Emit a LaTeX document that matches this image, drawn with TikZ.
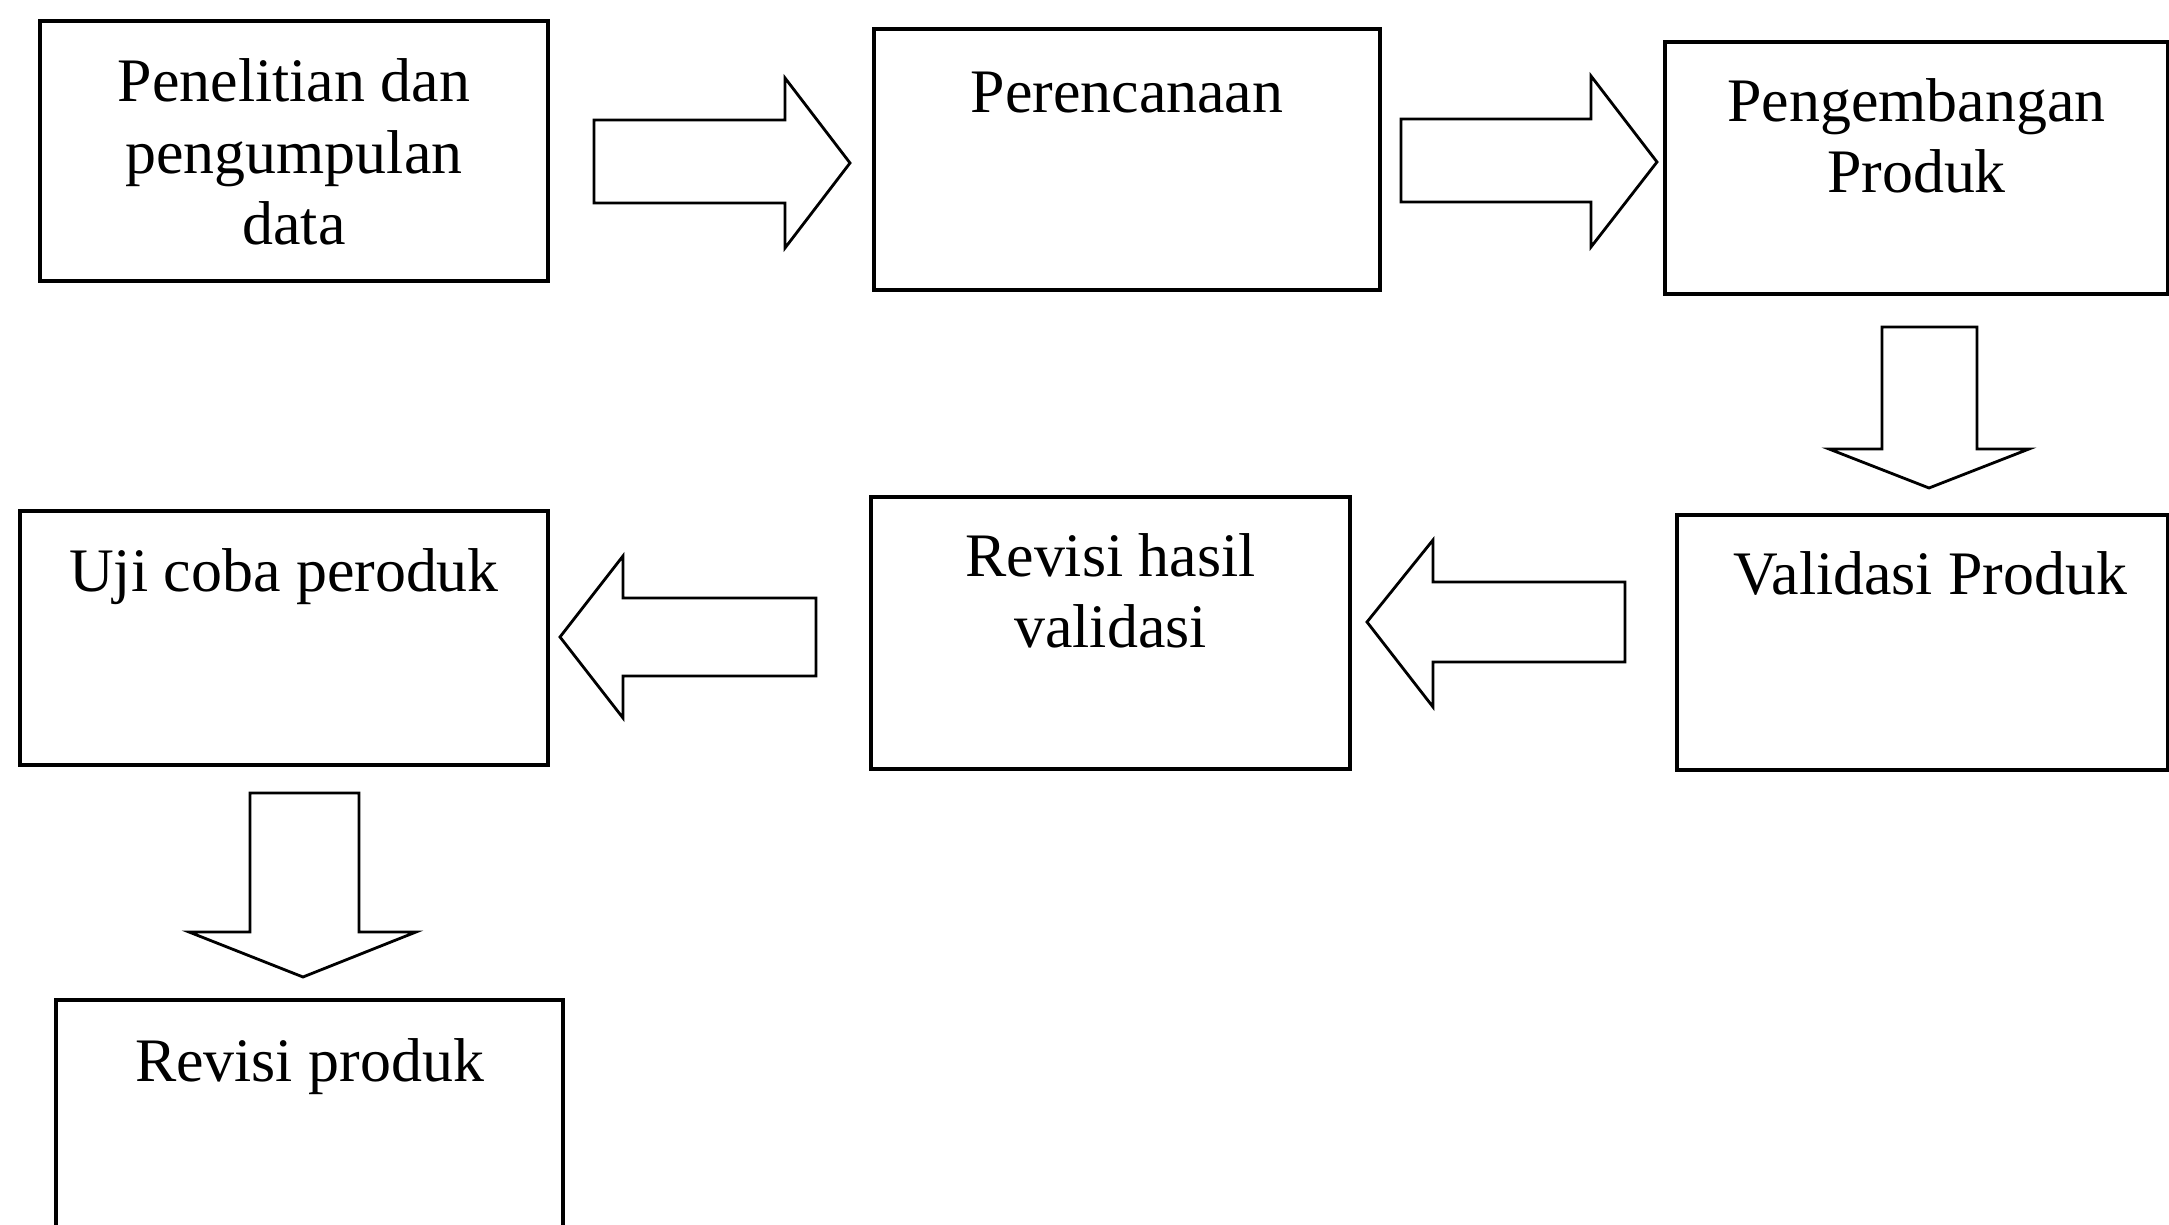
\documentclass[tikz,border=0pt]{standalone}
\usepackage{fontspec}
\setmainfont{Liberation Serif}
\usepackage{tikz}
\usetikzlibrary{calc,fit,positioning}

\tikzset{
  box/.style={draw, line width=0.9pt, inner sep=0pt, outer sep=0pt},
  steptxt/.style={font=\fontsize{17.6}{20.4}\selectfont, align=center, anchor=base, inner sep=0pt},
  blk/.style={draw, line width=0.8pt, fill=white, line join=miter}
}

\begin{document}
\begin{tikzpicture}[x=0.01cm, y=-0.01cm]
        \useasboundingbox (0,0) rectangle (2169,1225);
        \clip (0,0) rectangle (2169,1225);

        % Baris atas
        \node[box, fit={(40,21) (548,281)}] (b1) {};
        \node[steptxt] (t1) at ($(b1.north)+(0,224)$) {Penelitian dan\\pengumpulan\\data};

        \node[box, fit={(874,29) (1380,290)}] (b2) {};
        \node[steptxt] (t2) at ($(b2.north)+(0,84)$) {Perencanaan};

        \node[box, fit={(1665,42) (2168,294)}] (b3) {};
        \node[steptxt] (t3) at ($(b3.north)+(0,151)$) {Pengembangan\\Produk};

        % Baris tengah
        \node[box, fit={(1677,515) (2168,770)}] (b4) {};
        \node[steptxt] (t4) at ($(b4.north)+(8,80)$) {Validasi Produk};

        \node[box, fit={(871,497) (1350,769)}] (b5) {};
        \node[steptxt] (t5) at ($(b5.north)+(0,151)$) {Revisi hasil\\validasi};

        \node[box, fit={(20,511) (548,765)}] (b6) {};
        \node[steptxt] (t6) at ($(b6.north)+(0,81)$) {Uji coba peroduk};

        % Baris bawah
        \node[box, fit={(56,1000) (563,1260)}] (b7) {};
        \node[steptxt] (t7) at ($(b7.north)+(0,81)$) {Revisi produk};

        % Panah blok
        \draw[blk] (594,120) -- (785,120) -- (785,78) -- (850,163) -- (785,248) -- (785,203) -- (594,203) -- cycle;
        \draw[blk] (1401,119) -- (1591,119) -- (1591,76) -- (1657,162) -- (1591,247) -- (1591,202) -- (1401,202) -- cycle;
        \draw[blk] (1882,327) -- (1977,327) -- (1977,449) -- (2029,449) -- (1929,488) -- (1829,449) -- (1882,449) -- cycle;
        \draw[blk] (1625,582) -- (1433,582) -- (1433,540) -- (1367,622) -- (1433,707) -- (1433,662) -- (1625,662) -- cycle;
        \draw[blk] (816,598) -- (623,598) -- (623,556) -- (560,637) -- (623,718) -- (623,676) -- (816,676) -- cycle;
        \draw[blk] (250,793) -- (359,793) -- (359,932) -- (416,932) -- (303,977) -- (189,932) -- (250,932) -- cycle;
    \end{tikzpicture}
\end{document}
